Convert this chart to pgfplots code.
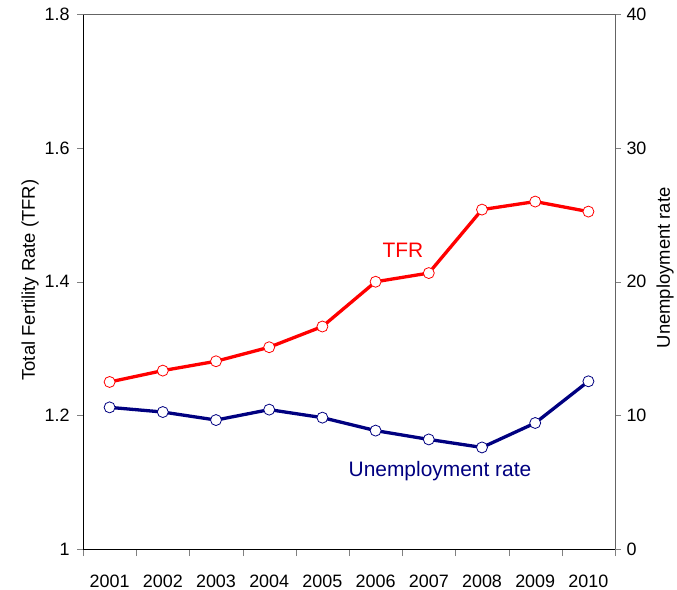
\documentclass[border=0pt]{standalone}
\usepackage{pgfplots}
\pgfplotsset{compat=1.18}
\usepackage{fontspec}
\setmainfont{Liberation Sans}
\definecolor{tfrred}{RGB}{255,0,0}
\definecolor{unnavy}{RGB}{0,0,128}
\definecolor{axgray}{RGB}{100,100,100}
\begin{document}
\begin{tikzpicture}
\useasboundingbox (0,0) rectangle (677bp,590bp);
\pgfplotsset{
  base/.style={
    at={(83bp,41bp)}, anchor=south west,
    scale only axis, width=532bp, height=534.5bp,
    xmin=0.5, xmax=10.5,
    tick align=outside,
    major tick length=6bp, minor tick length=7bp,
    /pgf/number format/assume math mode=true,
    ticklabel style={font=\fontsize{18}{21}\selectfont},
    label style={font=\fontsize{18.5}{22}\selectfont},
    axis line style={-},
    clip=false,
  }
}
\begin{axis}[base,
  axis x line*=bottom, axis y line*=left,
  ymin=1, ymax=1.8, ytick={1,1.2,1.4,1.6,1.8},
  xtick={1,2,3,4,5,6,7,8,9,10},
  xticklabels={2001,2002,2003,2004,2005,2006,2007,2008,2009,2010},
  every major x tick/.append style={draw=none},
  minor xtick={0.5,1.5,2.5,3.5,4.5,5.5,6.5,7.5,8.5,9.5,10.5},
  xticklabel style={yshift=-16bp},
  yticklabel style={xshift=-4bp},
  ylabel={Total Fertility Rate (TFR)},
  ylabel style={at={(axis description cs:-0.0996,0.503)}, anchor=center},
]
\addplot[color=tfrred, line width=3.3bp, mark=*, mark size=5.5bp,
  mark options={fill=white, draw=tfrred, line width=0.8bp, solid}]
  coordinates {(1,1.250) (2,1.267) (3,1.281) (4,1.302) (5,1.333)
               (6,1.400) (7,1.413) (8,1.508) (9,1.520) (10,1.505)};
\node[text=tfrred, font=\fontsize{21}{25}\selectfont] at (axis cs:6.515,1.4475) {TFR};
\end{axis}
\begin{axis}[base,
  axis x line=none, axis y line*=right,
  axis line style={-, axgray},
  ymin=0, ymax=40, ytick={0,10,20,30,40},
  yticklabel style={xshift=2bp},
  ylabel={Unemployment rate},
  ylabel style={at={(axis description cs:1.094,0.526)}, anchor=center},
]
\draw[axgray] (rel axis cs:0,1) -- (rel axis cs:1,1);
\addplot[color=unnavy, line width=3.3bp, mark=*, mark size=5.5bp,
  mark options={fill=white, draw=unnavy, line width=0.8bp, solid}]
  coordinates {(1,10.60) (2,10.25) (3,9.65) (4,10.43) (5,9.83)
               (6,8.86) (7,8.20) (8,7.60) (9,9.43) (10,12.55)};
\node[text=unnavy, font=\fontsize{21}{25}\selectfont] at (axis cs:7.21,5.86) {Unemployment rate};
\end{axis}
\end{tikzpicture}
\end{document}
